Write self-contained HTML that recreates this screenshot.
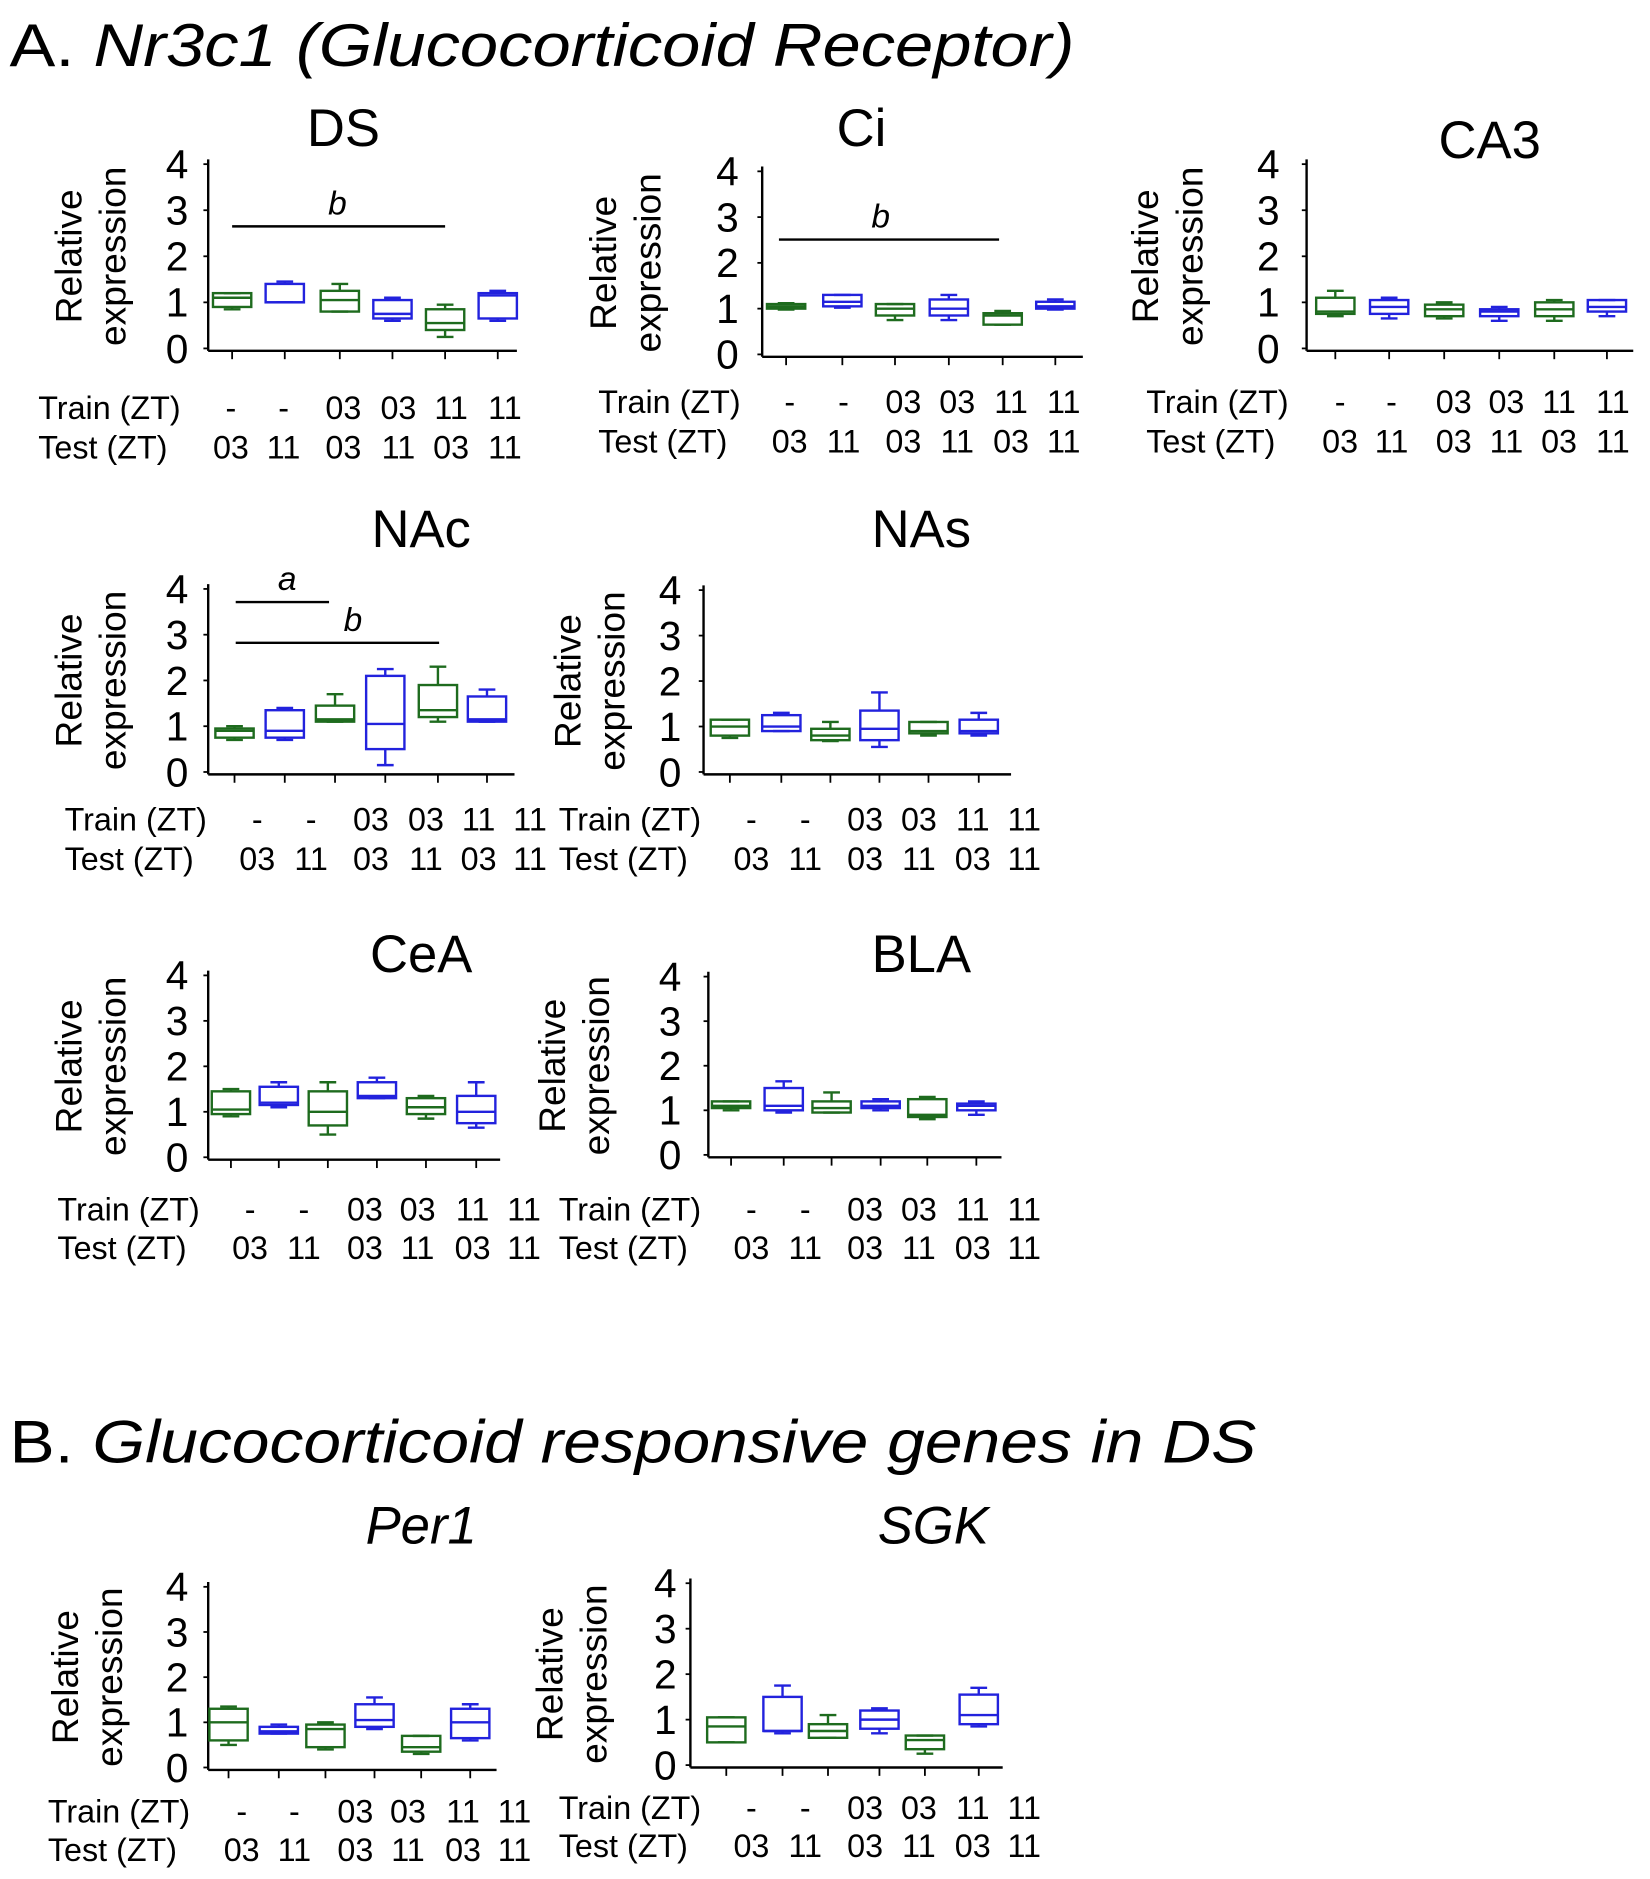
<!DOCTYPE html>
<html><head><meta charset="utf-8"><style>
html,body{margin:0;padding:0;background:#fff;}
svg{display:block;}
text{font-family:"Liberation Sans",sans-serif;fill:#000;}
.n{font-family:"Liberation Sans Narrow","Liberation Sans",sans-serif;}
</style></head><body>
<svg id="s" xmlns="http://www.w3.org/2000/svg" width="1650" height="1879" viewBox="0 0 1379 1570">
<rect width="1379" height="1570" fill="#fff"/>
<text x="8" y="55" font-size="50" textLength="890" lengthAdjust="spacingAndGlyphs">A. <tspan font-style="italic">Nr3c1 (Glucocorticoid Receptor)</tspan></text>
<text x="8" y="1222" font-size="50" textLength="1042" lengthAdjust="spacingAndGlyphs">B. <tspan font-style="italic">Glucocorticoid responsive genes in DS</tspan></text>
</svg>
<script>
var s=document.getElementById('s'),h='';
var G='#1e6b1e',B='#2222dd';
function P(o){
 var st=(o.y0-o.y4)/4,y=function(v){return o.y0-v*st;};
 h+='<line x1="'+o.ax+'" y1="'+(o.y4-4)+'" x2="'+o.ax+'" y2="'+(o.y0+2)+'" stroke="#000" stroke-width="2"/>';
 h+='<line x1="'+o.ax+'" y1="'+(o.y0+2)+'" x2="'+o.ae+'" y2="'+(o.y0+2)+'" stroke="#000" stroke-width="2"/>';
 for(var i=0;i<5;i++){var yy=y(i);h+='<line x1="'+(o.ax-4)+'" y1="'+yy+'" x2="'+o.ax+'" y2="'+yy+'" stroke="#000" stroke-width="1.5"/>';
  h+='<text class="n" x="'+o.tx+'" y="'+(yy+12)+'" font-size="34" text-anchor="middle">'+i+'</text>';}
 h+='<text x="'+o.ttx+'" y="'+o.tty+'" font-size="44" text-anchor="middle" '+(o.it?'font-style="italic"':'')+'>'+o.t+'</text>';
 var cy=(o.y0+o.y4)/2,yl=o.yl+10;
 h+='<text x="'+yl+'" y="'+cy+'" font-size="31" text-anchor="middle" transform="rotate(-90 '+yl+' '+cy+')">Relative</text>';
 h+='<text x="'+(yl+37)+'" y="'+cy+'" font-size="31" text-anchor="middle" transform="rotate(-90 '+(yl+37)+' '+cy+')">expression</text>';
 o.bx.forEach(function(x,i){
  var d=o.d[i],c=i%2?B:G,w=16;
  h+='<line x1="'+x+'" y1="'+(o.y0+2)+'" x2="'+x+'" y2="'+(o.y0+9)+'" stroke="#000" stroke-width="1.5"/>';
  h+='<g stroke="'+c+'" stroke-width="2" fill="none"><line x1="'+x+'" y1="'+y(d[3])+'" x2="'+x+'" y2="'+y(d[0])+'"/><line x1="'+x+'" y1="'+y(d[2])+'" x2="'+x+'" y2="'+y(d[4])+'"/>'+
  '<line x1="'+(x-7)+'" y1="'+y(d[3])+'" x2="'+(x+7)+'" y2="'+y(d[3])+'"/><line x1="'+(x-7)+'" y1="'+y(d[4])+'" x2="'+(x+7)+'" y2="'+y(d[4])+'"/>'+
  '<rect x="'+(x-w)+'" y="'+y(d[2])+'" width="'+(2*w)+'" height="'+(y(d[0])-y(d[2]))+'"/><line x1="'+(x-w)+'" y1="'+y(d[1])+'" x2="'+(x+w)+'" y2="'+y(d[1])+'"/></g>';
 });
 h+='<text class="n" x="'+o.lx+'" y="'+o.r1+'" font-size="27">Train  (ZT)</text>';
 h+='<text class="n" x="'+o.lx+'" y="'+o.r2+'" font-size="27">Test  (ZT)</text>';
 var tr=['-','-','03','03','11','11'],te=['03','11','03','11','03','11'];
 o.cx.forEach(function(x,i){h+='<text class="n" x="'+x+'" y="'+o.r1+'" font-size="27" text-anchor="middle">'+tr[i]+'</text><text class="n" x="'+x+'" y="'+o.r2+'" font-size="27" text-anchor="middle">'+te[i]+'</text>';});
 (o.bars||[]).forEach(function(b){h+='<line x1="'+b[0]+'" y1="'+b[2]+'" x2="'+b[1]+'" y2="'+b[2]+'" stroke="#000" stroke-width="2"/><text x="'+b[3]+'" y="'+(b[2]-10)+'" font-size="28" font-style="italic" font-family="Liberation Serif" text-anchor="middle">'+b[4]+'</text>';});
}
var LC1=[193,237,287,333,377,422],LC2=[628,673,723,768,813,856];
P({ax:174,y0:291,y4:137,ae:432,tx:148,yl:58,t:'DS',ttx:287,tty:122,bx:[194,238,284,328,372,416],lx:32,r1:350,r2:383,cx:LC1,
 bars:[[194,372,189,282,'b']],
 d:[[0.9,1.1,1.2,0.85,1.2],[1.0,1.0,1.4,1.0,1.45],[0.8,1.05,1.25,0.8,1.4],[0.65,0.75,1.05,0.6,1.1],[0.4,0.55,0.85,0.25,0.95],[0.65,1.15,1.2,0.6,1.25]]});
P({ax:637,y0:296,y4:143,ae:905,tx:608,yl:505,t:'Ci',ttx:720,tty:122,bx:[657,704,748,793,838,882],lx:500,r1:345,r2:378,cx:[660,705,755,800,845,889],
 bars:[[651,835,200,736,'b']],
 d:[[1.0,1.05,1.1,0.98,1.12],[1.05,1.15,1.3,1.02,1.3],[0.85,1.0,1.1,0.75,1.1],[0.85,1.0,1.2,0.75,1.3],[0.65,0.85,0.9,0.65,0.95],[1.0,1.05,1.15,0.98,1.2]]});
P({ax:1092,y0:291,y4:137,ae:1365,tx:1060,yl:958,t:'CA3',ttx:1245,tty:132,bx:[1116,1161,1207,1253,1299,1343],lx:958,r1:345,r2:378,cx:[1120,1163,1215,1259,1303,1348],
 d:[[0.75,0.8,1.1,0.7,1.25],[0.75,0.9,1.05,0.65,1.1],[0.7,0.85,0.95,0.65,1.0],[0.7,0.8,0.85,0.6,0.9],[0.7,0.85,1.0,0.6,1.05],[0.8,0.9,1.05,0.7,1.05]]});
P({ax:174,y0:645,y4:492,ae:430,tx:148,yl:58,t:'NAc',ttx:352,tty:457,bx:[196,238,280,322,366,407],lx:54,r1:694,r2:727,cx:[215,260,310,356,400,443],
 bars:[[197,275,503,240,'a'],[197,367,537,295,'b']],
 d:[[0.75,0.9,0.95,0.7,1.0],[0.75,0.9,1.35,0.7,1.4],[1.1,1.15,1.45,1.1,1.7],[0.5,1.05,2.1,0.15,2.25],[1.2,1.35,1.9,1.1,2.3],[1.1,1.15,1.65,1.1,1.8]]});
P({ax:588,y0:645,y4:493,ae:845,tx:560,yl:475,t:'NAs',ttx:770,tty:457,bx:[610,653,694,735,776,818],lx:467,r1:694,r2:727,cx:LC2,
 d:[[0.8,1.0,1.15,0.75,1.15],[0.9,1.0,1.25,0.9,1.3],[0.7,0.8,0.95,0.68,1.1],[0.7,0.95,1.35,0.55,1.75],[0.85,0.9,1.1,0.8,1.1],[0.85,0.9,1.15,0.8,1.3]]});
P({ax:174,y0:967,y4:815,ae:418,tx:148,yl:58,t:'CeA',ttx:352,tty:812,bx:[193,233,274,315,356,398],lx:48,r1:1020,r2:1052,cx:[209,254,305,349,395,438],
 d:[[0.95,1.05,1.45,0.9,1.5],[1.15,1.2,1.55,1.1,1.65],[0.7,1.0,1.45,0.5,1.65],[1.3,1.35,1.65,1.3,1.75],[0.95,1.1,1.3,0.85,1.35],[0.75,1.0,1.35,0.65,1.65]]});
P({ax:592,y0:965,y4:816,ae:837,tx:560,yl:462,t:'BLA',ttx:770,tty:812,bx:[611,655,695,736,775,816],lx:467,r1:1020,r2:1052,cx:LC2,
 d:[[1.05,1.1,1.2,1.0,1.2],[1.0,1.1,1.5,0.95,1.65],[0.95,1.05,1.2,0.95,1.4],[1.05,1.1,1.2,1.0,1.25],[0.85,0.9,1.25,0.8,1.3],[1.0,1.1,1.15,0.9,1.2]]});
P({ax:174,y0:1477,y4:1326,ae:415,tx:148,yl:55,t:'Per1',it:1,ttx:352,tty:1290,bx:[191,233,272,313,352,393],lx:40,r1:1523,r2:1555,cx:[202,246,297,341,387,430],
 d:[[0.6,1.0,1.3,0.5,1.35],[0.75,0.8,0.9,0.75,0.95],[0.45,0.85,0.95,0.4,1.0],[0.9,1.05,1.4,0.85,1.55],[0.35,0.45,0.7,0.3,0.7],[0.65,1.0,1.3,0.6,1.4]]});
P({ax:577,y0:1475,y4:1323,ae:838,tx:556,yl:460,t:'SGK',it:1,ttx:780,tty:1290,bx:[607,654,692,735,773,818],lx:467,r1:1520,r2:1552,cx:LC2,
 d:[[0.5,0.85,1.05,0.5,1.05],[0.75,0.75,1.5,0.7,1.75],[0.6,0.75,0.9,0.6,1.1],[0.8,1.0,1.2,0.7,1.25],[0.35,0.55,0.65,0.25,0.65],[0.9,1.1,1.55,0.85,1.7]]});
s.insertAdjacentHTML('beforeend',h);
</script>
</body></html>
